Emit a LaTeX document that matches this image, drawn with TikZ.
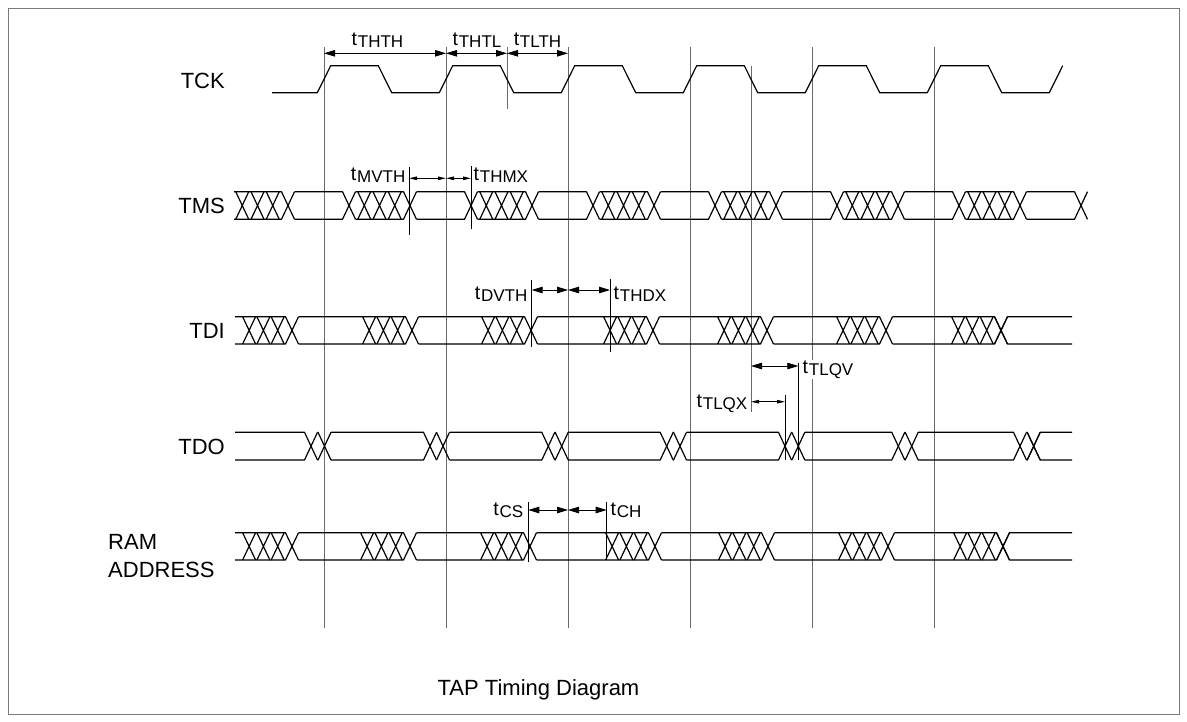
\documentclass[tikz,border=0pt]{standalone}
\usepackage{fontspec}
\setmainfont{Liberation Sans}
\usepackage{tikz}
\usetikzlibrary{arrows.meta}
\definecolor{GridGray}{HTML}{6A6A6A}
\definecolor{FrameGray}{HTML}{7A7A7A}
\newcommand{\tname}[1]{{\fontsize{19.5}{20}\selectfont t}\kern0.8pt\raisebox{-2.5pt}{\fontsize{17}{18}\selectfont #1}}

\begin{document}
\begin{tikzpicture}[x=1pt, y=-1pt,
    wave/.style={black, line width=1.2pt, line join=round},
    gridline/.style={GridGray, line width=0.9pt},
    refline/.style={black, line width=0.8pt},
    dimbig/.style={line width=0.8pt, >={Triangle[length=11pt,width=6.5pt]}, <->},
    dimsmall/.style={line width=0.8pt, >={Triangle[length=8pt,width=3.5pt]}, <->},
    sig/.style={font=\fontsize{22}{28.3}\selectfont, inner sep=0pt},
    tlab/.style={inner sep=0.5pt}]
    \useasboundingbox (0,0) rectangle (1187,721);
    \draw[FrameGray, line width=1pt] (8,8) rectangle (1179,714);

    % Clock grid
    \foreach \x [count=\i] in {324,446,568,690,812,934}
        \draw[gridline] (\x,47) coordinate (g\i) -- (\x,628);
    \draw[gridline] (507,47) coordinate (gFall1) -- (507,109);
    \draw[gridline] (751,66) coordinate (gFall4) -- (751,412);

    % Signal names
    \node[sig, anchor=base east] (TCK) at (225,88) {TCK};
    \node[sig, anchor=base east] (TMS) at (225,213) {TMS};
    \node[sig, anchor=base east] (TDI) at (225,338) {TDI};
    \node[sig, anchor=base east] (TDO) at (225,454) {TDO};
    \node[sig, anchor=west, align=left] (RAM) at (108,556) {RAM\\ADDRESS};

    % TCK
    \draw[wave] (272,92.7) \foreach \k in {0,...,5} {
        -- (317.3+122*\k,92.7) -- (330.7+122*\k,65.7)
        -- (378.3+122*\k,65.7) -- (391.7+122*\k,92.7)}
        -- (1049.3,92.7) -- (1062.7,65.7);

    % TMS
    \foreach \c [remember=\c as \p (initially 227.5)] in {288,349,...,1081} {
        \draw[wave] (\p+6.5,191.7) -- (\c-6.5,191.7) -- (\c+6.5,219.3);
        \draw[wave] (\p+6.5,219.3) -- (\c-6.5,219.3) -- (\c+6.5,191.7);
    }
    \foreach \b in {288,410,...,1020}
        \foreach \j in {1,2,3}
            \draw[wave] (\b-15.25*\j-6.5,191.7) -- (\b-15.25*\j+6.5,219.3)
                        (\b-15.25*\j-6.5,219.3) -- (\b-15.25*\j+6.5,191.7);

    % TDI
    \foreach \c [remember=\c as \p (initially 228.5)] in {292,412,531,653,767,886,1001} {
        \draw[wave] (\p+6.5,316.7) -- (\c-6.5,316.7) -- (\c+6.5,344);
        \draw[wave] (\p+6.5,344) -- (\c-6.5,344) -- (\c+6.5,316.7);
        \foreach \j in {1,2,3}
            \draw[wave] (\c-14.3*\j-6.5,316.7) -- (\c-14.3*\j+6.5,344)
                        (\c-14.3*\j-6.5,344) -- (\c-14.3*\j+6.5,316.7);
    }
    \draw[wave] (994.5,316.7) -- (1007.5,344) -- (1072,344);
    \draw[wave] (994.5,344) -- (1007.5,316.7) -- (1072,316.7);

    % TDO
    \foreach \c [remember=\c as \p (initially 228.5)] in
            {311,324.5,430,443,548.3,561.7,666.7,680,785,798.3,898.3,911.7,1020,1033.7} {
        \draw[wave] (\p+6.5,432.3) -- (\c-6.5,432.3) -- (\c+6.5,460);
        \draw[wave] (\p+6.5,460) -- (\c-6.5,460) -- (\c+6.5,432.3);
    }
    \draw[wave] (1027.2,432.3) -- (1040.2,460) -- (1072,460);
    \draw[wave] (1027.2,460) -- (1040.2,432.3) -- (1072,432.3);

    % RAM ADDRESS
    \foreach \c [remember=\c as \p (initially 228.5)] in {292,410,530,655,768,888,1003} {
        \draw[wave] (\p+6.5,532.7) -- (\c-6.5,532.7) -- (\c+6.5,560);
        \draw[wave] (\p+6.5,560) -- (\c-6.5,560) -- (\c+6.5,532.7);
        \foreach \j in {1,2,3}
            \draw[wave] (\c-14.3*\j-6.5,532.7) -- (\c-14.3*\j+6.5,560)
                        (\c-14.3*\j-6.5,560) -- (\c-14.3*\j+6.5,532.7);
    }
    \draw[wave] (996.5,532.7) -- (1009.5,560) -- (1072,560);
    \draw[wave] (996.5,560) -- (1009.5,532.7) -- (1072,532.7);

    % Reference lines
    \draw[refline] (409,167) coordinate (rMVTH) -- (409,235);
    \draw[refline] (471,166) coordinate (rTHMX) -- (471,229);
    \draw[refline] (531.7,280) coordinate (rDVTH) -- (531.7,347);
    \draw[refline] (610,279) coordinate (rTHDX) -- (610,352);
    \draw[refline] (798.3,363) coordinate (rTLQV) -- (798.3,460);
    \draw[refline] (785,395) coordinate (rTLQX) -- (785,460);
    \draw[refline] (528.3,502) coordinate (rCS) -- (528.3,562);
    \draw[refline] (606.7,502) coordinate (rCH) -- (606.7,560);

    % Timing arrows
    \coordinate (ckA) at (324,53.3);
    \coordinate (ckB) at (446,53.3);
    \coordinate (ckC) at (507,53.3);
    \coordinate (ckD) at (568,53.3);
    \draw[dimbig] (ckA) -- (ckB);
    \draw[dimbig] (ckB) -- (ckC);
    \draw[dimbig] (ckC) -- (ckD);

    \coordinate (msA) at (409,178.3);
    \coordinate (msB) at (446,178.3);
    \coordinate (msC) at (471,178.3);
    \draw[dimsmall] (msA) -- (msB);
    \draw[dimsmall] (msB) -- (msC);

    \coordinate (diA) at (531.7,290);
    \coordinate (diB) at (568,290);
    \coordinate (diC) at (610,290);
    \draw[dimbig] (diA) -- (diB);
    \draw[dimbig] (diB) -- (diC);

    \coordinate (qvA) at (751,366);
    \coordinate (qvB) at (798.3,366);
    \draw[dimbig] (qvA) -- (qvB);
    \coordinate (qxA) at (751,401.7);
    \coordinate (qxB) at (785,401.7);
    \draw[dimsmall] (qxA) -- (qxB);

    \coordinate (csA) at (528.3,510);
    \coordinate (csB) at (568,510);
    \coordinate (csC) at (606.7,510);
    \draw[dimbig] (csA) -- (csB);
    \draw[dimbig] (csB) -- (csC);

    % Timing labels
    \node[tlab, anchor=base] (lTHTH) at (377.5,45) {\tname{THTH}};
    \node[tlab, anchor=base] (lTHTL) at (477,45) {\tname{THTL}};
    \node[tlab, anchor=base] (lTLTH) at (537.5,45) {\tname{TLTH}};
    \node[tlab, anchor=base east] (lMVTH) at (406,180) {\tname{MVTH}};
    \node[tlab, anchor=base west] (lTHMX) at (473,180) {\tname{THMX}};
    \node[tlab, anchor=base east] (lDVTH) at (528,299) {\tname{DVTH}};
    \node[tlab, anchor=base west] (lTHDX) at (613,299) {\tname{THDX}};
    \node[tlab, anchor=base west, fill=white] (lTLQV) at (802,373) {\tname{TLQV}};
    \node[tlab, anchor=base east] (lTLQX) at (748,407) {\tname{TLQX}};
    \node[tlab, anchor=base east] (lCS) at (524,515) {\tname{CS}};
    \node[tlab, anchor=base west] (lCH) at (610,515) {\tname{CH}};

    % Caption
    \node[sig] (title) at (538.5,690) {TAP Timing Diagram};
\end{tikzpicture}
\end{document}
